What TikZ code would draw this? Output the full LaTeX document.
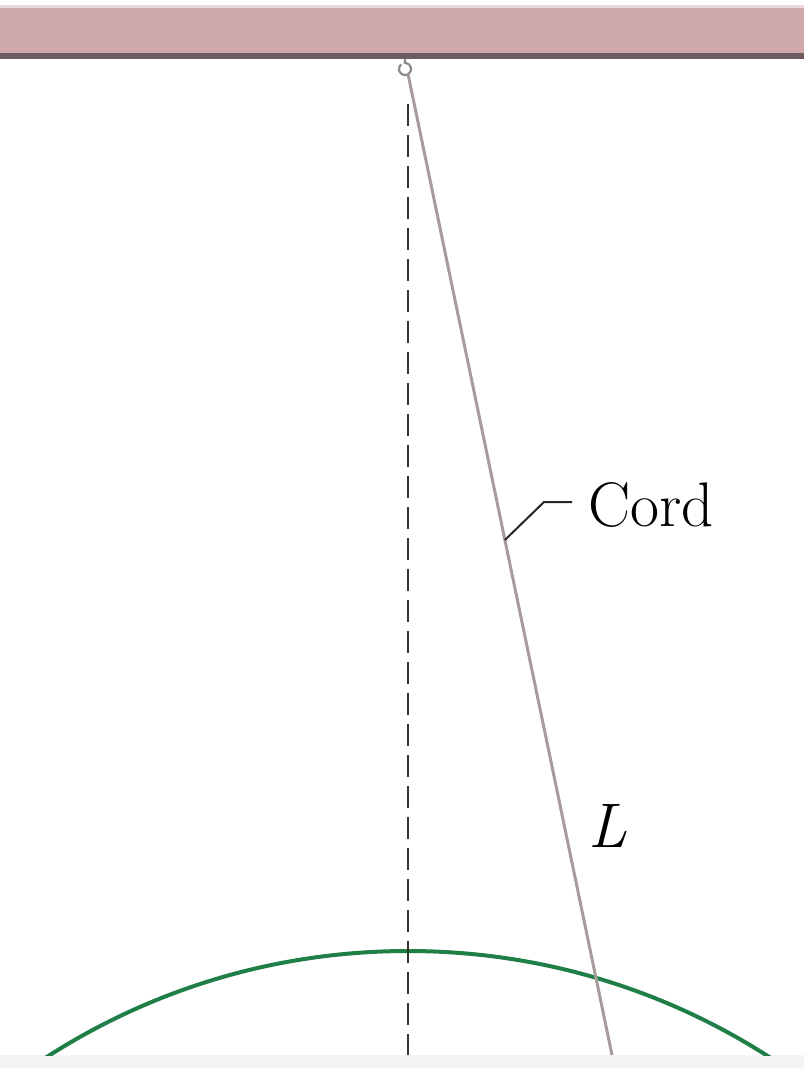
\documentclass[tikz,border=0pt]{standalone}
\usetikzlibrary{calc}
\definecolor{barpink}{HTML}{CFA9AC}
\definecolor{bartop}{HTML}{EBD9DA}
\definecolor{baredge}{HTML}{6E5B5F}
\definecolor{cordcol}{HTML}{A89C9A}
\definecolor{arcgreen}{HTML}{1F7F47}
\definecolor{hookgray}{HTML}{8A8A8A}
\definecolor{bottomgray}{HTML}{F4F4F4}
\tikzset{
  cordline/.style={draw=cordcol,line width=3pt},
  refline/.style={draw=black!80,line width=2pt,dash pattern=on 22pt off 9pt},
  pathline/.style={draw=arcgreen,line width=4pt},
  leader/.style={draw=black!85,line width=2pt},
  lbl/.style={font=\fontsize{63}{65}\selectfont,inner sep=0pt},
}
\begin{document}
\begin{tikzpicture}[x=1pt,y=-1pt]
\useasboundingbox (0,0) rectangle (804,1068);
\fill[white] (0,0) rectangle (804,1068);
% ceiling bar
\fill[bartop] (0,5) rectangle (804,9);
\fill[barpink] (0,8) rectangle (804,53);
\fill[baredge] (0,53) rectangle (804,59);
% bottom strip
\fill[bottomgray] (0,1055) rectangle (804,1068);
% green path arc
\begin{scope}
\clip (0,0) rectangle (804,1055);
\draw[pathline] (408,1619) circle[radius=668];
\end{scope}
% dashed vertical
\coordinate (dtop) at (408,104);
\coordinate (dbot) at (408,1055);
\draw[refline] (dtop) -- (dbot);
% hook
\coordinate (hook) at (406,70);
\draw[hookgray,line width=2.2pt] (405,59) -- (405,63) arc[start angle=-90,end angle=230,radius=6];
% cord
\coordinate (ctop) at (408,74);
\coordinate (cbot) at (612,1055);
\draw[cordline] (ctop) -- (cbot);
% labels
\node[lbl,anchor=west] (cord) at (588,505) {Cord};
\coordinate (lp) at ($(ctop)!0.475!(cbot)$);
\draw[leader] (lp) -- (544,502) -- (572,502);
\node[lbl] (L) at (608,826) {\textit{L}};
\end{tikzpicture}
\end{document}
